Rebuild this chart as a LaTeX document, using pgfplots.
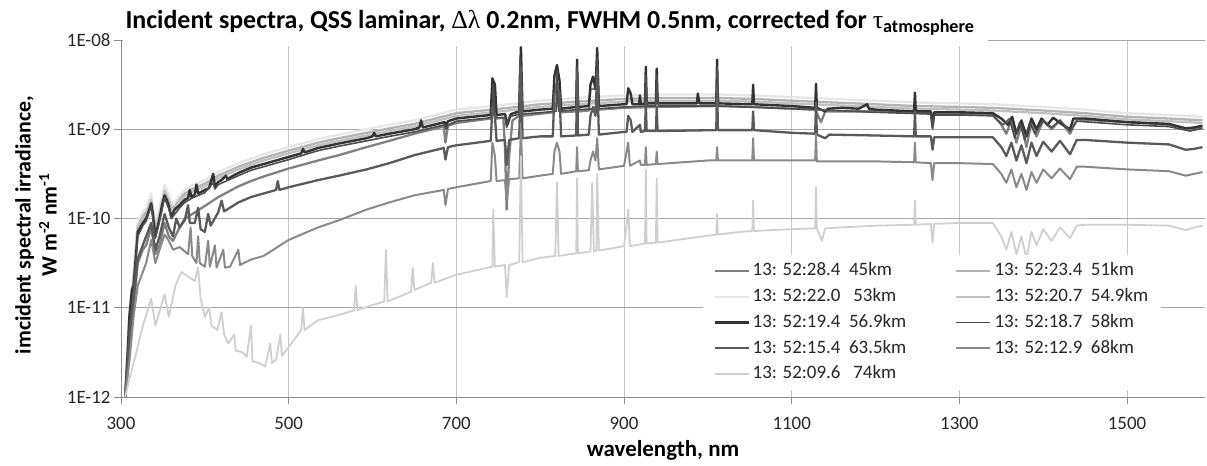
\documentclass[border=0pt]{standalone}
\usepackage{fontspec}
\setmainfont{Carlito}
\newfontfamily\greekf{Liberation Serif}
\usepackage{pgfplots}
\pgfplotsset{compat=1.18}
\definecolor{c45}{HTML}{808080}
\definecolor{c51}{HTML}{B4B4B4}
\definecolor{c53}{HTML}{E6E6E6}
\definecolor{c549}{HTML}{C0C0C0}
\definecolor{c569}{HTML}{333333}
\definecolor{c58}{HTML}{4D4D4D}
\definecolor{c635}{HTML}{5A5A5A}
\definecolor{c68}{HTML}{8A8A8A}
\definecolor{c74}{HTML}{CFCFCF}
\definecolor{axgray}{HTML}{8C8C8C}
\definecolor{hgrid}{HTML}{A8A8A8}
\definecolor{vgrid}{HTML}{C8C8C8}
\begin{document}
\begin{tikzpicture}
\useasboundingbox (-121bp,-69bp) rectangle (1086bp,397bp);
\begin{axis}[
 name=ax, at={(0,0)}, anchor=south west,
 scale only axis, width=1084bp, height=357bp,
 xmin=300, xmax=1593, ymin=-12, ymax=-8,
 xtick={300,500,...,1500},
 ytick={-12,-11,-10,-9,-8},
 yticklabels={1E-12,1E-11,1E-10,1E-09,1E-08},
 axis x line*=bottom, axis y line*=left,
 axis line style={color=axgray, line width=0.8bp},
 tick align=outside, major tick length=7bp,
 every tick/.style={color=axgray, line width=0.8bp},
 xmajorgrids, ymajorgrids,
 x grid style={color=vgrid, line width=0.8bp},
 y grid style={color=hgrid, line width=0.8bp},
 ticklabel style={font=\fontsize{19}{22}\selectfont, text=black!85},
 xticklabel style={yshift=-10bp},
 /pgf/number format/assume math mode=true,
 /pgf/number format/1000 sep={},
 scaled ticks=false,
 legend columns=2,
 legend cell align=left,
 legend image code/.code={\draw[#1] (0bp,0bp) -- (34bp,0bp);},
 legend style={at={(0.537,0.398)}, anchor=north west, fill=white, draw=none,
   font=\fontsize{19}{22}\selectfont, text=black!85,
   inner xsep=10bp, inner ysep=3bp,
   nodes={inner xsep=3bp, inner ysep=3.85bp, text height=14bp, text depth=4bp},
   /tikz/every even column/.append style={column sep=46bp}},
 line join=round,
]
% 45 km
\addplot[c45, line width=2.3bp] table {
x y
305 -12.0
310 -11.5
315 -11.0
320 -10.5
326 -10.35
330 -10.3
336 -10.1
341 -10.4
346 -10.3
352 -10.05
357 -10.2
362 -10.25
370 -10.1
376 -10.0
385 -9.95
400 -9.86
416 -9.76
440 -9.64
455 -9.58
470 -9.53
500 -9.44
535 -9.35
560 -9.29
593 -9.20
620 -9.13
650 -9.05
685 -8.97
687 -9.15
690 -8.96
700 -8.93
741 -8.88
743 -8.6
746 -8.65
748 -8.88
756 -8.87
758 -9.2
760 -9.90
763 -9.3
767 -8.9
775 -8.85
776 -8.3
778 -8.85
815 -8.81
817 -8.5
823 -8.5
825 -8.81
843 -8.80
844 -8.4
846 -8.80
858 -8.79
860 -8.55
866 -8.55
868 -8.3
870 -8.78
900 -8.76
939 -8.75
1011 -8.74
1054 -8.75
1100 -8.77
1128 -8.78
1135 -8.92
1140 -8.80
1200 -8.80
1266 -8.82
1268 -9.0
1270 -8.83
1300 -8.83
1340 -8.84
1350 -8.95
1356 -9.05
1362 -8.9
1368 -9.15
1374 -8.95
1380 -9.2
1386 -8.92
1392 -9.08
1400 -8.9
1410 -9.0
1420 -8.9
1432 -9.05
1440 -8.89
1500 -8.92
1550 -8.95
1575 -9.0
1590 -8.98
};
\addlegendentry{13: 52:28.4\ \ 45km}
% 51 km
\addplot[c51, line width=2.3bp] table {
x y
305 -12.0
310 -11.08
315 -10.65
320 -10.06
326 -9.97
330 -9.92
336 -9.76
341 -10.09
346 -9.92
352 -9.66
357 -9.77
362 -9.89
370 -9.78
376 -9.72
385 -9.67
400 -9.61
416 -9.52
440 -9.42
455 -9.37
470 -9.32
500 -9.24
535 -9.15
560 -9.10
593 -9.04
620 -8.99
650 -8.94
700 -8.82
743 -8.78
800 -8.72
844 -8.69
900 -8.66
939 -8.65
1011 -8.65
1054 -8.66
1100 -8.68
1200 -8.72
1247 -8.74
1300 -8.75
1340 -8.76
1400 -8.79
1450 -8.82
1500 -8.86
1550 -8.88
1590 -8.90
};
\addlegendentry{13: 52:23.4\ \ 51km}
% 53 km
\addplot[c53, line width=2.3bp] table {
x y
305 -12.0
310 -11.03
315 -10.6
320 -10.02
326 -9.93
330 -9.88
336 -9.72
341 -10.05
346 -9.88
352 -9.62
357 -9.73
362 -9.85
370 -9.74
376 -9.68
385 -9.63
400 -9.57
416 -9.48
440 -9.38
455 -9.33
470 -9.28
500 -9.20
535 -9.11
560 -9.06
593 -9.00
620 -8.95
650 -8.90
700 -8.78
743 -8.74
800 -8.68
844 -8.65
900 -8.62
939 -8.61
1011 -8.61
1054 -8.62
1100 -8.64
1200 -8.68
1247 -8.70
1300 -8.71
1340 -8.72
1400 -8.75
1450 -8.78
1500 -8.82
1550 -8.84
1590 -8.86
};
\addlegendentry{13: 52:22.0\ \ \ 53km}
% 54.9 km
\addplot[c549, line width=2.3bp] table {
x y
305 -12.0
310 -11.12
315 -10.68
320 -10.09
326 -10.0
330 -9.95
336 -9.79
341 -10.12
346 -9.95
352 -9.69
357 -9.80
362 -9.92
370 -9.81
376 -9.75
385 -9.70
400 -9.64
416 -9.55
440 -9.45
455 -9.40
470 -9.35
500 -9.27
535 -9.18
560 -9.13
593 -9.07
620 -9.02
650 -8.97
700 -8.85
743 -8.81
800 -8.75
844 -8.72
900 -8.69
939 -8.68
1011 -8.68
1054 -8.69
1100 -8.71
1200 -8.75
1247 -8.77
1300 -8.78
1340 -8.79
1400 -8.82
1450 -8.85
1500 -8.89
1550 -8.91
1590 -8.93
};
\addlegendentry{13: 52:20.7\ \ 54.9km}
% 56.9 km
\addplot[c569, line width=2.4bp] table {
x y
305 -12.0
308 -11.5
310 -11.1
313 -10.8
315 -10.75
318 -10.4
320 -10.15
323 -10.1
326 -10.05
330 -10.0
333 -9.92
336 -9.83
338 -9.95
341 -10.2
346 -10.0
349 -9.85
352 -9.74
355 -9.8
357 -9.86
360 -9.98
364 -9.9
370 -9.85
376 -9.79
380 -9.77
382 -9.68
384 -9.76
388 -9.73
390 -9.62
392 -9.72
396 -9.70
400 -9.68
405 -9.66
410 -9.50
412 -9.64
416 -9.59
420 -9.57
425 -9.52
427 -9.56
432 -9.53
440 -9.49
455 -9.43
470 -9.39
485 -9.35
500 -9.31
515 -9.27
517 -9.22
519 -9.26
535 -9.21
560 -9.16
593 -9.10
600 -9.08
602 -9.04
604 -9.08
620 -9.05
650 -9.00
656 -8.98
658 -8.90
660 -8.98
686 -8.92
687 -8.97
690 -8.91
700 -8.88
720 -8.86
741 -8.84
743 -8.43
746 -8.50
748 -8.84
758 -8.83
761 -8.95
765 -8.83
775 -8.80
777 -8.08
779 -8.80
800 -8.78
815 -8.77
817 -8.40
820 -8.28
823 -8.45
825 -8.77
843 -8.75
844 -8.22
845 -8.75
858 -8.74
860 -8.50
863 -8.41
866 -8.55
868 -8.09
870 -8.74
900 -8.72
903 -8.72
905 -8.54
908 -8.60
910 -8.72
918 -8.72
919 -8.62
920 -8.72
925 -8.71
926 -8.30
927 -8.71
938 -8.71
939 -8.32
940 -8.71
987 -8.71
988 -8.60
990 -8.71
1010 -8.71
1011 -8.22
1012 -8.71
1053 -8.72
1054 -8.50
1055 -8.72
1100 -8.74
1128 -8.76
1129 -8.49
1130 -8.76
1140 -8.80
1143 -8.77
1160 -8.76
1180 -8.77
1190 -8.72
1192 -8.77
1200 -8.78
1246 -8.80
1247 -8.59
1248 -8.80
1266 -8.80
1268 -8.95
1270 -8.81
1300 -8.81
1340 -8.82
1350 -8.88
1358 -8.95
1363 -8.86
1368 -9.05
1374 -8.90
1380 -9.08
1386 -8.88
1392 -9.00
1398 -8.88
1405 -8.95
1412 -8.87
1420 -8.93
1432 -9.00
1436 -8.88
1450 -8.88
1500 -8.92
1550 -8.94
1570 -8.99
1580 -8.98
1590 -8.96
};
\addlegendentry{13: 52:19.4\ \ 56.9km}
% 58 km
\addplot[c58, line width=1.6bp] table {
x y
305 -12.0
310 -11.2
315 -10.8
320 -10.2
326 -10.08
330 -10.03
336 -9.86
341 -10.22
346 -10.03
352 -9.77
357 -9.89
360 -10.0
370 -9.88
376 -9.82
385 -9.77
400 -9.71
410 -9.60
412 -9.67
416 -9.62
440 -9.52
455 -9.46
470 -9.42
500 -9.34
535 -9.24
560 -9.19
593 -9.13
620 -9.08
650 -9.03
686 -8.95
688 -9.0
690 -8.95
700 -8.91
743 -8.87
744 -8.5
746 -8.87
758 -8.87
760 -8.98
763 -8.86
775 -8.83
776 -8.2
778 -8.83
819 -8.80
820 -8.35
822 -8.80
843 -8.78
844 -8.3
846 -8.78
867 -8.77
868 -8.2
870 -8.77
900 -8.75
925 -8.74
926 -8.4
928 -8.74
938 -8.74
939 -8.4
941 -8.74
1010 -8.74
1011 -8.3
1013 -8.74
1100 -8.77
1200 -8.81
1266 -8.83
1268 -8.98
1270 -8.84
1300 -8.84
1340 -8.85
1352 -8.95
1360 -8.88
1366 -9.1
1372 -8.92
1378 -9.12
1384 -8.92
1390 -9.05
1400 -8.9
1410 -8.98
1420 -8.9
1432 -9.02
1440 -8.91
1500 -8.95
1550 -8.97
1575 -9.02
1590 -8.99
};
\addlegendentry{13: 52:18.7\ \ 58km}
% 63.5 km
\addplot[c635, line width=2.3bp] table {
x y
305 -12.0
310 -11.4
315 -10.9
320 -10.45
326 -10.3
330 -10.2
336 -10.05
341 -10.35
346 -10.2
352 -9.95
357 -10.1
362 -10.2
366 -10.0
370 -10.1
376 -10.02
380 -9.85
382 -10.05
388 -10.05
392 -9.88
395 -10.12
400 -10.15
404 -9.95
407 -10.08
416 -9.93
420 -9.8
423 -9.92
440 -9.82
455 -9.76
470 -9.72
485 -9.68
487 -9.58
489 -9.68
500 -9.65
535 -9.57
560 -9.52
593 -9.45
620 -9.38
650 -9.29
685 -9.21
687 -9.34
690 -9.20
700 -9.18
741 -9.13
743 -8.75
746 -8.85
748 -9.13
758 -9.12
760 -9.40
763 -9.12
775 -9.10
777 -8.3
779 -9.10
800 -9.08
815 -9.08
817 -8.6
820 -8.5
823 -8.6
825 -9.08
843 -9.07
844 -8.35
845 -9.07
858 -9.06
860 -8.85
863 -8.75
866 -8.85
868 -8.35
870 -9.06
900 -9.03
903 -9.03
905 -8.85
908 -8.9
910 -9.03
919 -8.95
920 -9.03
925 -9.02
926 -8.7
927 -9.02
938 -9.02
939 -8.75
940 -9.02
1010 -9.01
1011 -8.5
1012 -9.01
1053 -9.01
1054 -8.8
1055 -9.01
1100 -9.04
1128 -9.05
1129 -8.7
1130 -9.06
1140 -9.10
1145 -9.06
1200 -9.07
1246 -9.08
1247 -8.8
1248 -9.08
1266 -9.08
1268 -9.23
1270 -9.09
1300 -9.09
1340 -9.09
1350 -9.2
1356 -9.3
1362 -9.15
1368 -9.35
1374 -9.18
1380 -9.38
1386 -9.15
1392 -9.3
1400 -9.14
1410 -9.25
1420 -9.13
1432 -9.28
1440 -9.12
1450 -9.12
1500 -9.15
1550 -9.17
1570 -9.23
1580 -9.22
1590 -9.20
};
\addlegendentry{13: 52:15.4\ \ 63.5km}
% 68 km
\addplot[c68, line width=2.0bp] table {
x y
305 -12.0
310 -11.6
315 -11.1
320 -10.75
326 -10.6
330 -10.5
336 -10.24
341 -10.5
346 -10.35
352 -10.18
357 -10.25
362 -10.35
370 -10.32
380 -10.4
383 -10.1
385 -10.42
390 -10.5
392 -10.2
394 -10.5
400 -10.54
404 -10.25
406 -10.54
412 -10.3
414 -10.55
422 -10.35
424 -10.55
430 -10.54
440 -10.35
442 -10.52
455 -10.46
470 -10.42
500 -10.24
535 -10.10
560 -10.02
593 -9.90
620 -9.82
650 -9.74
685 -9.68
687 -9.85
690 -9.67
700 -9.65
741 -9.58
743 -9.15
746 -9.3
748 -9.58
758 -9.57
760 -9.80
763 -9.56
775 -9.55
777 -9.0
779 -9.55
800 -9.52
815 -9.50
817 -9.25
820 -9.15
823 -9.25
825 -9.50
843 -9.47
844 -9.2
845 -9.47
858 -9.46
860 -9.35
863 -9.25
866 -9.35
868 -9.1
870 -9.45
900 -9.41
905 -9.15
907 -9.41
919 -9.35
920 -9.40
925 -9.40
926 -9.2
927 -9.40
938 -9.39
939 -9.25
940 -9.39
1000 -9.35
1010 -9.35
1011 -9.2
1012 -9.35
1053 -9.35
1054 -9.1
1055 -9.35
1100 -9.35
1128 -9.35
1129 -9.05
1130 -9.36
1200 -9.36
1246 -9.37
1247 -9.15
1248 -9.37
1266 -9.38
1268 -9.57
1270 -9.38
1300 -9.38
1340 -9.39
1350 -9.5
1356 -9.6
1362 -9.45
1368 -9.65
1374 -9.5
1380 -9.68
1386 -9.48
1392 -9.6
1400 -9.45
1410 -9.55
1420 -9.44
1432 -9.56
1440 -9.42
1450 -9.42
1500 -9.45
1550 -9.47
1570 -9.52
1580 -9.50
1590 -9.48
};
\addlegendentry{13: 52:12.9\ \ 68km}
% 74 km
\addplot[c74, line width=1.8bp] table {
x y
305 -12.0
310 -11.8
317 -11.55
326 -11.2
336 -10.9
341 -11.2
352 -10.85
357 -11.1
365 -10.75
372 -10.6
380 -10.65
388 -10.7
392 -10.55
395 -10.9
400 -11.1
405 -11.0
408 -11.2
415 -11.25
420 -11.05
423 -11.3
428 -11.4
435 -11.3
437 -11.48
445 -11.5
450 -11.55
455 -11.2
457 -11.6
465 -11.62
472 -11.66
478 -11.4
480 -11.62
485 -11.58
490 -11.3
492 -11.54
500 -11.44
515 -11.25
517 -11.0
519 -11.25
535 -11.14
560 -11.08
578 -11.03
580 -10.75
582 -11.03
593 -10.99
614 -10.93
616 -10.35
618 -10.93
646 -10.82
648 -10.55
650 -10.80
670 -10.72
672 -10.5
674 -10.72
700 -10.63
743 -10.54
744 -9.9
746 -10.54
758 -10.52
760 -10.88
763 -10.52
775 -10.49
777 -9.3
779 -10.49
800 -10.44
818 -10.42
820 -9.6
822 -10.42
843 -10.39
844 -9.55
845 -10.39
860 -10.37
862 -9.6
864 -10.37
867 -10.36
868 -9.5
870 -10.36
900 -10.31
905 -9.9
907 -10.31
925 -10.28
926 -9.45
927 -10.28
938 -10.27
939 -9.55
940 -10.27
1010 -10.18
1011 -9.95
1012 -10.18
1038 -10.15
1053 -10.14
1054 -9.8
1055 -10.14
1100 -10.12
1128 -10.11
1129 -9.65
1130 -10.11
1136 -10.25
1140 -10.11
1200 -10.08
1246 -10.07
1247 -9.8
1248 -10.07
1266 -10.06
1268 -10.27
1270 -10.06
1300 -10.05
1340 -10.05
1350 -10.2
1356 -10.35
1362 -10.15
1368 -10.4
1374 -10.2
1380 -10.45
1386 -10.15
1392 -10.3
1400 -10.12
1410 -10.25
1420 -10.1
1432 -10.22
1440 -10.08
1450 -10.07
1500 -10.07
1550 -10.08
1570 -10.13
1580 -10.1
1590 -10.08
};
\addlegendentry{13: 52:09.6\ \ \ 74km}
\end{axis}
% title (white box covers top gridline as in the reference)
\fill[white] (2bp,351bp) rectangle (867bp,397bp);
\node[font=\bfseries\fontsize{26}{30}\selectfont, anchor=center] at (429bp,374bp)
 {Incident spectra, QSS laminar, {\greekf\mdseries Δλ} 0.2nm, FWHM 0.5nm, corrected for {\greekf\mdseries τ}\textsubscript{atmosphere}};
% axis titles
\node[font=\bfseries\fontsize{22}{26}\selectfont, align=center, rotate=90] at (-85bp,172bp)
 {imcident spectral irradiance,\\W m\textsuperscript{-2} nm\textsuperscript{-1}};
\node[font=\bfseries\fontsize{23}{27}\selectfont] at (542bp,-53bp) {wavelength, nm};
\end{tikzpicture}
\end{document}
